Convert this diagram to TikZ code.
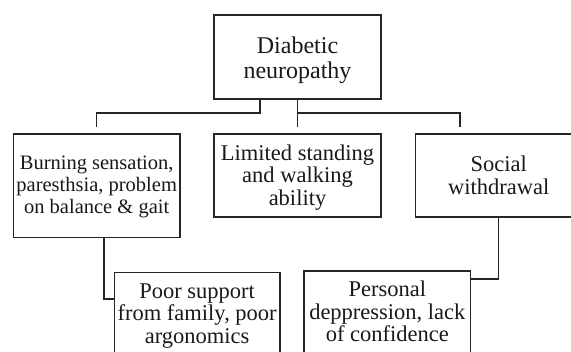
\documentclass[tikz,border=0pt]{standalone}
\usepackage{fontspec}
\setmainfont{Liberation Serif}
\usetikzlibrary{calc}
\begin{document}
\begin{tikzpicture}[x=1pt,y=-1pt,
  box/.style={draw=black!85, line width=1.3pt, inner sep=0pt, outer sep=0pt},
  txt/.style={align=center, inner sep=0pt, text=black!90},
  big/.style={font=\fontsize{24}{25}\selectfont},
  mid/.style={font=\fontsize{22.5}{22.5}\selectfont},
  small/.style={font=\fontsize{20.5}{21.7}\selectfont},
  link/.style={draw=black!85, line width=1.3pt}]
\useasboundingbox (0,0) rectangle (571,352);
\clip (0,0) rectangle (571,352);
\fill[white] (0,0) rectangle (571,352);

% boxes
\node[box, minimum width=167pt, minimum height=84pt] (top) at (297.5,57) {};
\node[box, minimum width=166.7pt, minimum height=103.7pt] (left) at (96.7,185.85) {};
\node[box, minimum width=167pt, minimum height=83pt] (middle) at (297.5,175.5) {};
\node[box, minimum width=166.3pt, minimum height=83pt] (right) at (498.8,175.5) {};
\node[box, minimum width=165.7pt, minimum height=86pt] (poor) at (197.15,315.3) {};
\node[box, minimum width=166.7pt, minimum height=86pt] (pers) at (387.35,314) {};

% texts
\node[txt, big] (topT) at (297.5,59.9) {Diabetic\\neuropathy};
\node[txt, small] (leftT) at (96.7,187) {Burning sensation,\\paresthsia, problem\\on balance \& gait};
\node[txt, mid] (middleT) at (297.5,177.2) {Limited standing\\and walking\\ability};
\node[txt, mid] (rightT) at (498.8,175.2) {Social\\withdrawal};
\node[txt, mid] (poorT) at (197.15,315.9) {Poor support\\from family, poor\\argonomics};
\node[txt, mid] (persT) at (387.35,311.5) {Personal\\deppression, lack\\of confidence};

% connector ends
\coordinate (lEnd) at ([yshift=7pt]left.north);
\coordinate (mEnd) at ([yshift=7pt]middle.north);
\coordinate (rEnd) at ([yshift=7pt, xshift=-38.8pt]right.north);

% connectors
\draw[link] ([xshift=-37.5pt]top.south) -- ++(0,14) -| (lEnd);
\draw[link] (top.south) -- (mEnd);
\draw[link] (top.south) ++(0,14) -| (rEnd);
\draw[link] ([xshift=7.3pt]left.south) |- ([yshift=-26.7pt]poor.north west);
\draw[link] (right.south) |- ([yshift=-8pt]pers.north east);
\end{tikzpicture}
\end{document}
